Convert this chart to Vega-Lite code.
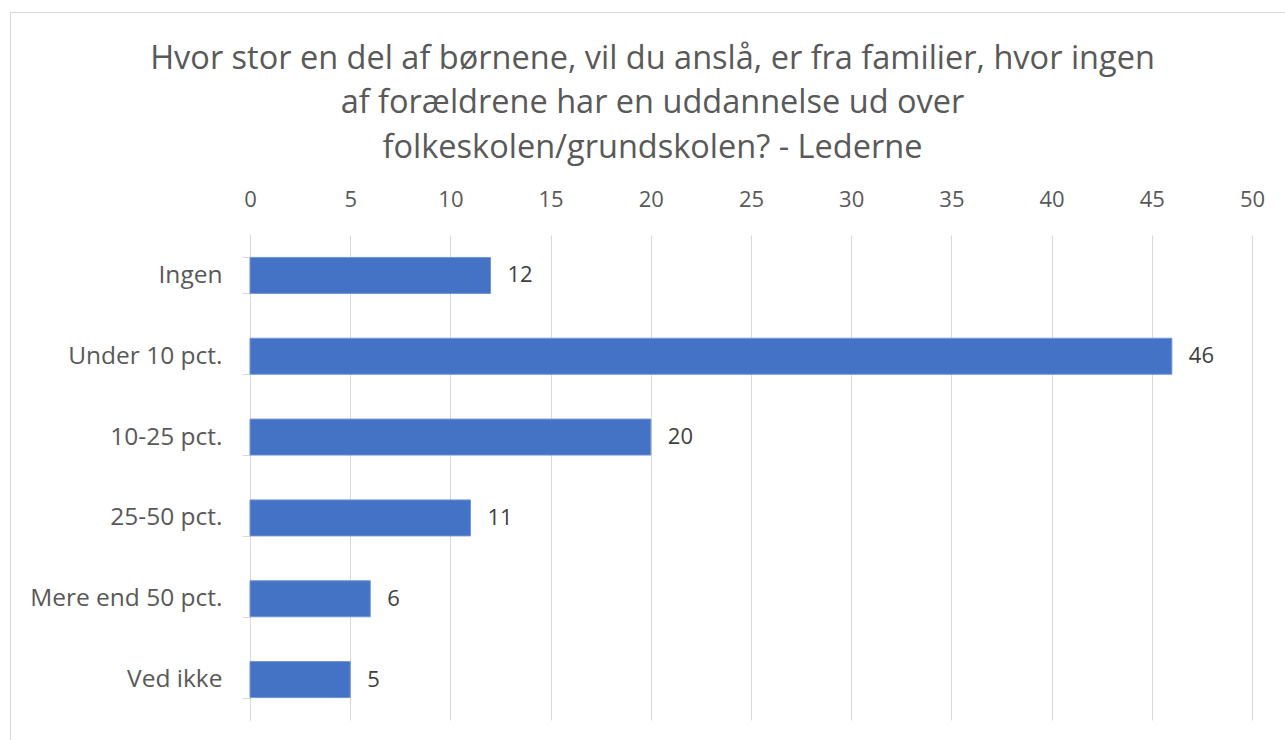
{
  "$schema": "https://vega.github.io/schema/vega-lite/v6.json",
  "width": 1275,
  "height": 740,
  "autosize": {"type": "none"},
  "padding": {"left": 10, "top": 12, "right": 0, "bottom": 0},
  "background": "white",
  "config": {
    "view": {"stroke": "#d9d9d9", "strokeWidth": 1},
    "font": "Open Sans"
  },
  "title": {
    "text": [
      "Hvor stor en del af børnene, vil du anslå, er fra familier, hvor ingen",
      "af forældrene har en uddannelse ud over",
      "folkeskolen/grundskolen? - Lederne"
    ],
    "anchor": "middle",
    "frame": "group",
    "dx": 5,
    "offset": -165,
    "fontSize": 32.5,
    "lineHeight": 44.5,
    "fontWeight": "normal",
    "color": "#595959",
    "font": "Open Sans"
  },
  "data": {
    "values": [
      {"svar": "Ingen", "andel": 12},
      {"svar": "Under 10 pct.", "andel": 46},
      {"svar": "10-25 pct.", "andel": 20},
      {"svar": "25-50 pct.", "andel": 11},
      {"svar": "Mere end 50 pct.", "andel": 6},
      {"svar": "Ved ikke", "andel": 5}
    ]
  },
  "encoding": {
    "y": {
      "field": "svar",
      "type": "nominal",
      "sort": null,
      "scale": {"range": [223, 708], "paddingInner": 0.555, "paddingOuter": 0.2775},
      "axis": {
        "title": null,
        "offset": -240,
        "domainColor": "#d9d9d9",
        "tickColor": "#d9d9d9",
        "tickBand": "extent",
        "tickSize": 8,
        "labelPadding": 20,
        "labelLimit": 400,
        "labelFontSize": 24.5,
        "labelColor": "#595959",
        "labelFont": "Open Sans",
        "grid": false
      }
    },
    "x": {
      "field": "andel",
      "type": "quantitative",
      "scale": {"domain": [0, 50], "range": [240, 1242], "nice": false, "zero": true},
      "axis": {
        "orient": "top",
        "title": null,
        "offset": -223,
        "values": [0, 5, 10, 15, 20, 25, 30, 35, 40, 45, 50],
        "labelFlush": false,
        "labelOverlap": false,
        "grid": true,
        "gridColor": "#d9d9d9",
        "gridWidth": 1,
        "domain": false,
        "ticks": false,
        "tickSize": 0,
        "labelPadding": 24,
        "labelFontSize": 22,
        "labelColor": "#595959",
        "labelFont": "Open Sans"
      }
    }
  },
  "layer": [
    {
      "mark": {"type": "bar", "color": "#4472C4", "stroke": "#6f93d6", "strokeWidth": 1}
    },
    {
      "mark": {"type": "text", "align": "left", "baseline": "middle", "dx": 17, "fontSize": 22, "color": "#404040", "font": "Open Sans"},
      "encoding": {"text": {"field": "andel", "type": "quantitative"}}
    }
  ]
}
